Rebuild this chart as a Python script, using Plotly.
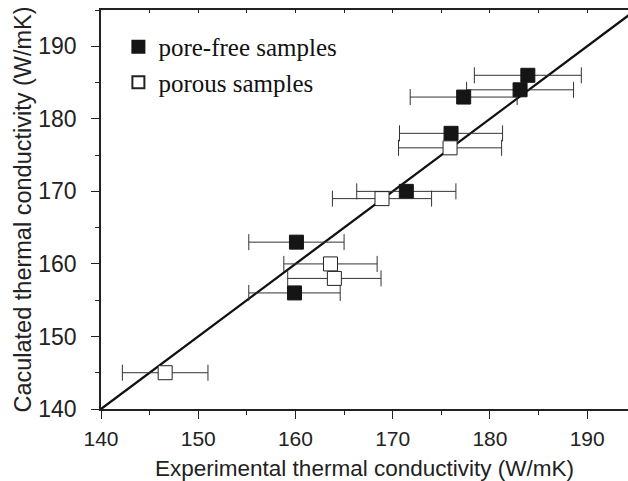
import plotly.graph_objects as go

# Data
pf_exp = [183.9, 183.1, 177.3, 176.0, 171.4, 160.1, 159.9]
pf_calc = [186, 184, 183, 178, 170, 163, 156]
pf_err = [5.5, 5.5, 5.5, 5.3, 5.1, 4.9, 4.7]

po_exp = [146.6, 163.6, 164.0, 168.9, 175.9]
po_calc = [145, 160, 158, 169, 176]
po_err = [4.4, 4.8, 4.8, 5.1, 5.3]

line_x = [140, 200]
line_y = [140, 200]

x_ticks = [140, 150, 160, 170, 180, 190]
y_ticks = [140, 150, 160, 170, 180, 190]

fig = go.Figure()

fig.add_trace(go.Scatter(x=line_x, y=line_y, mode="lines",
                         line=dict(color="#111", width=2.3), showlegend=False,
                         hoverinfo="skip"))

fig.add_trace(go.Scatter(
    x=pf_exp, y=pf_calc, mode="markers", name="pore-free samples",
    marker=dict(symbol="square", size=14, color="#151515",
                line=dict(color="#151515", width=1)),
    error_x=dict(type="data", array=pf_err, color="#333", thickness=1, width=8),
))
fig.add_trace(go.Scatter(
    x=po_exp, y=po_calc, mode="markers", name="porous samples",
    marker=dict(symbol="square", size=14, color="white",
                line=dict(color="#222", width=1)),
    error_x=dict(type="data", array=po_err, color="#333", thickness=1, width=8),
))

xr = [140, 194.2]
yr = [140, 195]
xtickfont = dict(family="Liberation Sans, Arial, sans-serif", size=21, color="#222")
ytickfont = dict(family="Liberation Sans, Arial, sans-serif", size=23, color="#222")
xtitlefont = dict(family="Liberation Sans, Arial, sans-serif", size=22.5, color="#222")
ytitlefont = dict(family="Liberation Sans, Arial, sans-serif", size=23.5, color="#222")

fig.update_layout(
    width=628, height=481,
    margin=dict(l=101, r=0, t=10, b=72),
    plot_bgcolor="white", paper_bgcolor="white",
    font=xtickfont,
    showlegend=True,
    legend=dict(x=0.033, y=0.965, xanchor="left", yanchor="top",
                font=dict(family="Liberation Serif, Times New Roman, serif", size=25, color="#111"),
                bgcolor="rgba(0,0,0,0)", tracegroupgap=0, itemsizing="constant"),
    xaxis=dict(range=xr, tickvals=x_ticks, ticks="outside", ticklen=8, tickwidth=1.2,
               tickcolor="#222", showline=True, linecolor="#222", linewidth=1.5,
               mirror=False, showgrid=False, zeroline=False, tickfont=xtickfont,
               ticklabelstandoff=2,
               minor=dict(dtick=5, tick0=140, ticks="outside", ticklen=4, tickwidth=1.2, tickcolor="#222"),
               title=dict(text="Experimental thermal conductivity (W/mK)", font=xtitlefont, standoff=12)),
    xaxis2=dict(range=xr, overlaying="x", side="top", tickmode="linear", tick0=140, dtick=5,
                ticks="inside", ticklen=3, tickwidth=1.2, tickcolor="#222",
                showticklabels=False, showgrid=False, zeroline=False,
                showline=True, linecolor="#222", linewidth=1.5),
    yaxis=dict(range=yr, tickvals=y_ticks, ticks="outside", ticklen=8, tickwidth=1.2,
               tickcolor="#222", showline=True, linecolor="#222", linewidth=1.5,
               mirror=False, showgrid=False, zeroline=False, tickfont=ytickfont,
               ticklabelstandoff=10,
               minor=dict(dtick=5, tick0=140, ticks="outside", ticklen=4, tickwidth=1.2, tickcolor="#222"),
               title=dict(text="Caculated thermal conductivity (W/mK)", font=ytitlefont, standoff=0)),
)

# dummy trace to activate top overlay axis
fig.add_trace(go.Scatter(x=[None], y=[None], xaxis="x2", showlegend=False, hoverinfo="skip"))

fig.write_html("out.html")
